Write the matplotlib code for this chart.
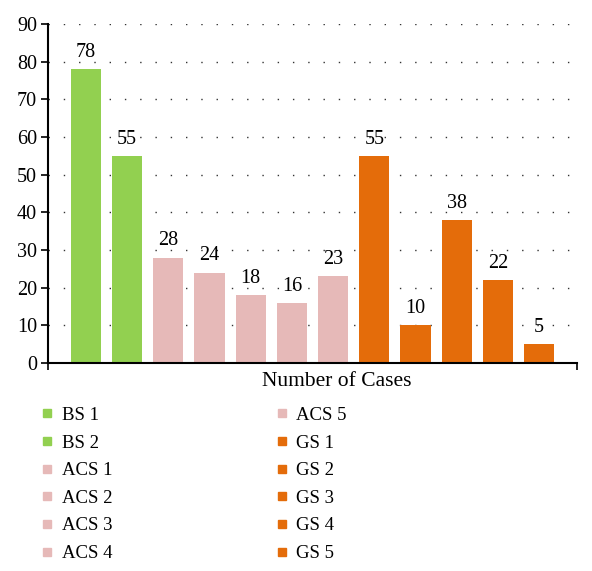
import matplotlib
matplotlib.use('Agg')
import matplotlib.pyplot as plt
from matplotlib.lines import Line2D

# chart data
labels = ['BS 1', 'BS 2', 'ACS 1', 'ACS 2', 'ACS 3', 'ACS 4', 'ACS 5',
          'GS 1', 'GS 2', 'GS 3', 'GS 4', 'GS 5']
values = [78, 55, 28, 24, 18, 16, 23, 55, 10, 38, 22, 5]
groups = ['BS', 'BS', 'ACS', 'ACS', 'ACS', 'ACS', 'ACS',
          'GS', 'GS', 'GS', 'GS', 'GS']
group_colors = {'BS': '#92d050', 'ACS': '#e6b9b8', 'GS': '#e46c0a'}
y_ticks = [0, 10, 20, 30, 40, 50, 60, 70, 80, 90]

plt.rcParams['font.family'] = ['Liberation Serif', 'DejaVu Serif']

fig = plt.figure(figsize=(5.92, 5.71), dpi=100)
ax = fig.add_axes([48 / 592, 1 - 363 / 571, 529 / 592, 339 / 571])

colors = [group_colors[g] for g in groups]
xs = list(range(len(values)))
bars = ax.bar(xs, values, width=0.73, color=colors, zorder=2)

# value labels above the bars
for x, v in zip(xs, values):
    ax.annotate(str(v), (x, v), xytext=(0, 12), textcoords='offset points',
                ha='center', va='center', fontsize=14.5)

ax.set_ylim(0, 90)
ax.set_xlim(-0.92, 11.92)
ax.set_yticks(y_ticks)
ax.set_yticklabels([str(t) for t in y_ticks], fontsize=14.5)
ax.set_xticks([-0.92, 11.92])
ax.set_xticklabels(['', ''])
ax.tick_params(axis='both', direction='out', length=5, width=1.2, colors='black')
ax.tick_params(axis='y', pad=3)

# dotted horizontal grid
ax.yaxis.grid(True, linestyle=(0, (1, 10)), color='#333333', linewidth=1.0, zorder=0)
ax.set_axisbelow(True)

for side in ['top', 'right']:
    ax.spines[side].set_visible(False)
for side in ['left', 'bottom']:
    ax.spines[side].set_linewidth(1.5)

fig.text(337 / 592, 1 - 381 / 571, 'Number of Cases', ha='center', va='center', fontsize=15.5)

# legend in two columns below the chart
handles = [Line2D([0], [0], marker='s', linestyle='none', markersize=5.5,
                  markerfacecolor=c, markeredgecolor=c) for c in colors]
fig.legend(handles, labels, ncol=2, loc='upper left',
           bbox_to_anchor=(21 / 592, 1 - 390 / 571), frameon=False,
           fontsize=13.5, handletextpad=0.3, columnspacing=8.5,
           labelspacing=0.56, handlelength=1.0)

plt.savefig('out.png', dpi=100)
